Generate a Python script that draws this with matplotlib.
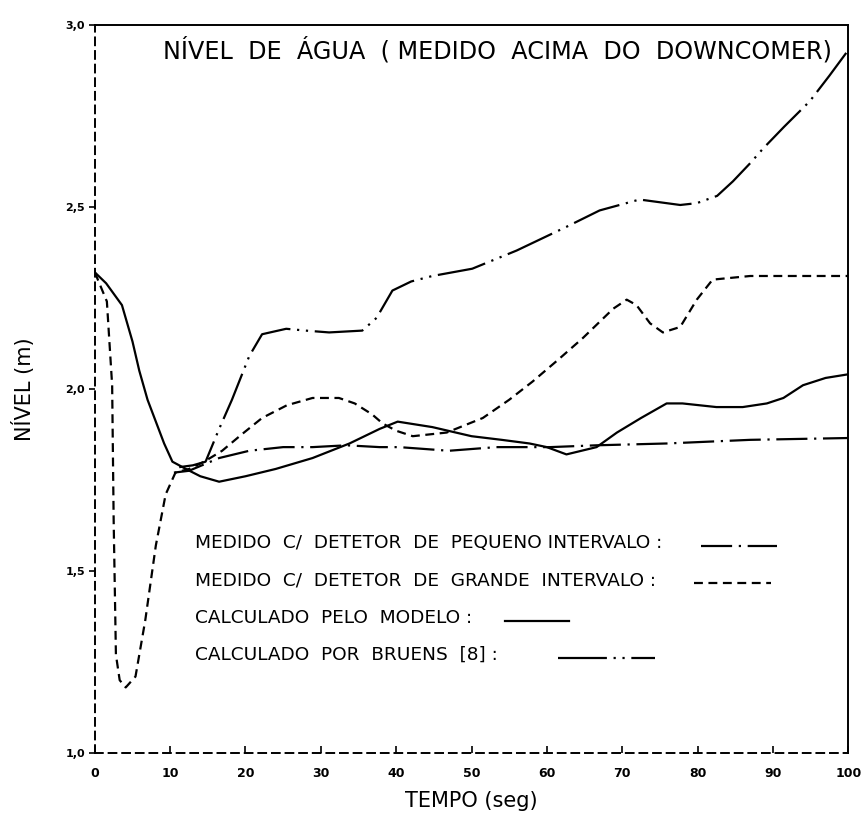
import matplotlib
matplotlib.use("Agg")
import matplotlib.pyplot as plt

plt.rcParams['font.family'] = ['DejaVu Sans']

# ---- data ----
model_t = [0, 1.5, 3.6, 5.0, 5.9, 7.0, 8.1, 9.2, 10.3, 12.1, 14, 16.5, 20, 24, 28.9, 33.8,
           37.8, 40.2, 44.8, 50, 54, 57.7, 60, 62.6, 66.6, 69.3, 72.5, 75.9, 78, 82.5, 86,
           89.2, 91.4, 94, 97, 100]
model_y = [2.32, 2.29, 2.23, 2.13, 2.05, 1.97, 1.91, 1.85, 1.80, 1.78, 1.76, 1.745, 1.76,
           1.78, 1.81, 1.85, 1.89, 1.91, 1.895, 1.87, 1.86, 1.85, 1.84, 1.82, 1.84, 1.88,
           1.92, 1.96, 1.96, 1.95, 1.95, 1.96, 1.975, 2.01, 2.03, 2.04]

grande_t = [0, 1.6, 2.3, 2.5, 2.8, 3.3, 4.1, 5.4, 6.7, 8.1, 9.4, 10.7, 12.5, 14.5, 16.9,
            19.5, 22.2, 25.5, 28.9, 32.4, 34.5, 36.8, 38.2, 40, 42.2, 46.7, 51.5, 55, 58.1,
            61.5, 64.8, 68.8, 70.6, 71.9, 73.7, 75.4, 77.7, 79.9, 82, 87, 91.4, 100]
grande_y = [2.32, 2.24, 2.01, 1.64, 1.27, 1.20, 1.18, 1.21, 1.365, 1.57, 1.71, 1.77, 1.78,
            1.80, 1.83, 1.875, 1.92, 1.955, 1.975, 1.975, 1.96, 1.93, 1.905, 1.885, 1.87,
            1.88, 1.92, 1.97, 2.02, 2.08, 2.14, 2.22, 2.245, 2.23, 2.18, 2.155, 2.17, 2.245,
            2.30, 2.31, 2.31, 2.31]

pequeno_t = [10.5, 12.5, 16.5, 20.5, 25, 28.9, 33.4, 37.8, 40.4, 47, 53.3, 60.4, 66.6,
             75.9, 87, 100]
pequeno_y = [1.77, 1.775, 1.81, 1.83, 1.84, 1.84, 1.845, 1.84, 1.84, 1.83, 1.84, 1.84,
             1.845, 1.85, 1.86, 1.865]

bruens_t = [11.2, 13, 14.7, 16.5, 18.2, 20.5, 22.2, 25.4, 28, 31.1, 35.5, 37.4, 39.5, 42,
            44.8, 50.1, 56, 62.6, 67, 72.3, 77.7, 79.9, 82.6, 84.7, 87, 88.7, 91.5, 94.9,
            97.5, 100]
bruens_y = [1.785, 1.79, 1.80, 1.89, 1.97, 2.09, 2.15, 2.165, 2.16, 2.155, 2.16, 2.195,
            2.27, 2.295, 2.31, 2.33, 2.38, 2.445, 2.49, 2.52, 2.505, 2.51, 2.53, 2.57, 2.62,
            2.66, 2.72, 2.79, 2.86, 2.93]

x_ticks = [0, 10, 20, 30, 40, 50, 60, 70, 80, 90, 100]
x_ticklabels = ['0', '10', '20', '30', '40', '50', '60', '70', '80', '90', '100']
y_ticks = [1.0, 1.5, 2.0, 2.5, 3.0]
y_ticklabels = ['1,0', '1,5', '2,0', '2,5', '3,0']

title = 'NÍVEL  DE  ÁGUA  ( MEDIDO  ACIMA  DO  DOWNCOMER)'
legend_labels = ['MEDIDO  C/  DETETOR  DE  PEQUENO INTERVALO :',
                 'MEDIDO  C/  DETETOR  DE  GRANDE  INTERVALO :',
                 'CALCULADO  PELO  MODELO :',
                 'CALCULADO  POR  BRUENS  [8] :']

# ---- styles ----
ls_pequeno = (0, (14, 3, 1, 3))
ls_grande = (0, (4, 2.5))
ls_model = '-'
ls_bruens = (0, (22, 3, 1, 3, 1, 3))
lw = 1.6

fig = plt.figure(figsize=(8.62, 8.25), dpi=100)
ax = fig.add_axes([0.110, 0.0873, 0.874, 0.8827])

ax.plot(model_t, model_y, color='black', lw=lw, ls=ls_model)
ax.plot(grande_t, grande_y, color='black', lw=lw, ls=ls_grande)
ax.plot(pequeno_t, pequeno_y, color='black', lw=lw, ls=ls_pequeno)
ax.plot(bruens_t, bruens_y, color='black', lw=lw, ls=ls_bruens)

ax.set_xlim(0, 100)
ax.set_ylim(1.0, 3.0)

ax.set_xticks(x_ticks)
ax.set_xticklabels(x_ticklabels, fontsize=9, fontweight='bold')
ax.set_yticks(y_ticks)
ax.set_yticklabels(y_ticklabels, fontsize=8, fontweight='bold')
ax.tick_params(axis='x', direction='in', length=5, width=1.2, pad=10)
ax.tick_params(axis='y', direction='out', length=4, width=1.2, pad=3)

for side in ['left', 'bottom']:
    ax.spines[side].set_linestyle((0, (4, 3)))
    ax.spines[side].set_linewidth(1.4)
for side in ['top', 'right']:
    ax.spines[side].set_linewidth(1.4)

ax.set_xlabel('TEMPO (seg)', fontsize=15, labelpad=8)
ax.set_ylabel('NÍVEL (m)', fontsize=15, labelpad=22)

ax.text(9, 2.93, title, fontsize=17.2, ha='left', va='center')

# legend block
leg_y = [1.577, 1.475, 1.371, 1.269]
leg_styles = [ls_pequeno, ls_grande, ls_model, ls_bruens]
leg_line_x = [(80.5, 90.5), (79.5, 89.8), (54.5, 63), (61.5, 74.3)]
for y, lab, st, (x0, x1) in zip(leg_y, legend_labels, leg_styles, leg_line_x):
    ax.text(13.3, y, lab, fontsize=13.3, ha='left', va='center')
    ax.plot([x0, x1], [y - 0.008, y - 0.008], color='black', lw=lw, ls=st)

fig.savefig('out.png', dpi=100)
